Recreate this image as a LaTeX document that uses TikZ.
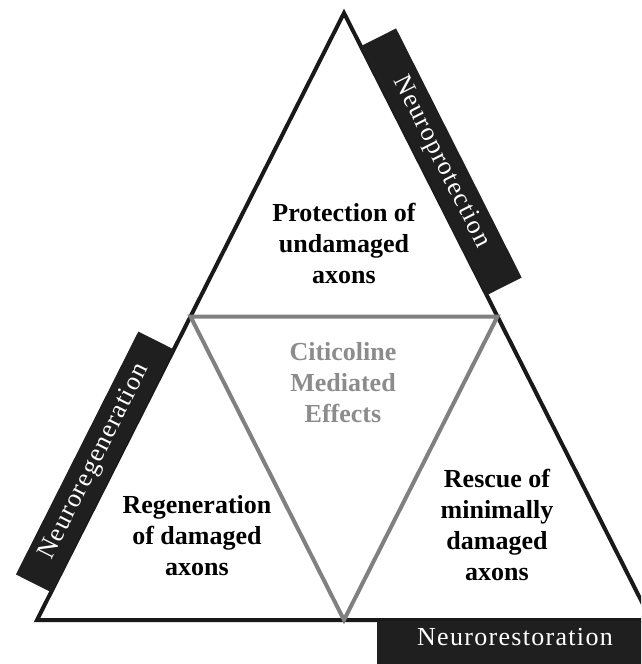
\documentclass[tikz,border=0pt]{standalone}
\usepackage{fontspec}
\setmainfont{Liberation Serif}
\newfontfamily\barfont[LetterSpace=5]{Liberation Serif}
\usepackage{tikz}
\usetikzlibrary{calc}

\begin{document}
\begin{tikzpicture}[x=1pt,y=-1pt,
  bigtri/.style={draw=black!90,line width=4pt,line join=miter},
  midtri/.style={draw=black!50,line width=4pt,line join=miter},
  zonetext/.style={align=center,inner sep=0pt,font=\fontsize{26}{31}\selectfont\bfseries},
  bartext/.style={fill=black!88,text=white,inner sep=0pt,minimum height=40pt,font=\barfont\fontsize{26}{30}\selectfont}]
\clip (0,0) rectangle (641,664);
\fill[white] (0,0) rectangle (641,664);
% corners of the big triangle (right one lies past the edge)
\coordinate (apex) at (344,13);
\coordinate (bl) at (37,620);
\coordinate (br) at (651,620);
\coordinate (ml) at ($(apex)!0.5!(bl)$);
\coordinate (mr) at ($(apex)!0.5!(br)$);
\coordinate (mb) at ($(bl)!0.5!(br)$);
\draw[bigtri] (apex) -- (bl) -- (br) -- cycle;
\draw[midtri] (ml) -- (mr) -- (mb) -- cycle;
% black bars
\node[bartext,rotate=-63.25,minimum width=279pt] (protect) at (441,162) {Neuroprotection};
\node[bartext,rotate=63.25,minimum width=272pt] (regen) at (95,462) {Neuroregeneration};
\fill[black!88] (377,621) rectangle (660,670);
\node[text=white,inner sep=0pt,font=\barfont\fontsize{26}{30}\selectfont] (restore) at (515,637) {Neurorestoration};
% texts
\node[zonetext] (protection) at (344,243) {Protection of\\undamaged\\axons};
\node[zonetext,text=black!45] (effects) at (343,383) {Citicoline\\Mediated\\Effects};
\node[zonetext] (regeneration) at (197,536) {Regeneration\\of damaged\\axons};
\node[zonetext] (rescue) at (497,525) {Rescue of\\minimally\\damaged\\axons};
\end{tikzpicture}
\end{document}
